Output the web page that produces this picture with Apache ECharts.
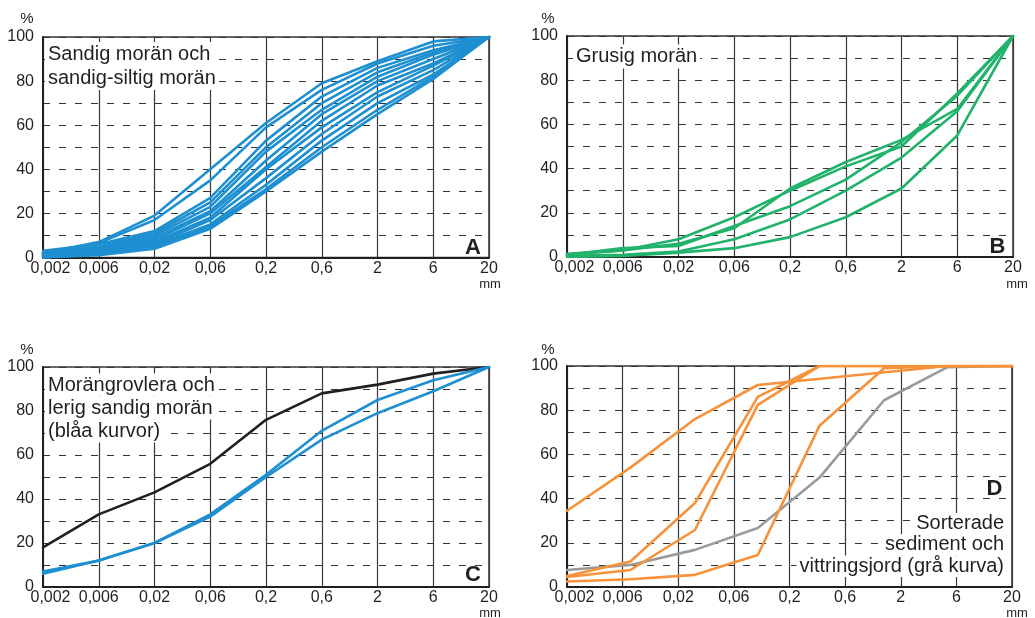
<!DOCTYPE html>
<html>
<head>
<meta charset="utf-8">
<script src="https://cdn.jsdelivr.net/npm/echarts@6/dist/echarts.min.js"></script>
<style>html,body{margin:0;padding:0;background:#fff}#c{width:1035px;height:618px}</style>
</head>
<body>
<div id="c"></div>
<script>
// ---- tick labels ----
const xTickLabels = ['0,002','0,006','0,02','0,06','0,2','0,6','2','6','20'];
const yTickLabels = [0, 20, 40, 60, 80, 100];

// ---- Panel A: sandig morän och sandig-siltig morän (values at each tick) ----
const sandigMoran = [
  [2, 7, 19, 40, 61, 79, 89, 98, 100],
  [2, 6.5, 17, 35, 59, 76, 88, 96, 100],
  [3, 6, 12, 27, 53, 73, 86, 94, 100],
  [2, 5, 11, 25, 50, 70, 84, 93, 100],
  [1.5, 4.5, 10, 23, 48, 67, 82, 92, 100],
  [1, 4, 9, 21, 44, 65, 80, 90, 100],
  [1, 3.5, 8, 20, 41, 62, 78, 88, 100],
  [0.5, 3, 7, 18, 40, 59, 75, 87, 100],
  [0.5, 2.5, 6, 17, 36, 56, 73, 85, 100],
  [0, 2, 5.5, 15, 33, 53, 70, 83, 100],
  [0, 1.5, 5, 14, 31, 50, 67, 82, 100],
  [0, 1, 4, 13, 30, 48, 65, 81, 100]
];

// ---- Panel B: grusig morän ----
const grusigMoran = [
  [1.5, 3, 8, 18, 30, 41, 50, 74, 100],
  [1, 3, 6, 13, 31, 43, 53, 67, 100],
  [1, 4, 5, 14, 23, 35, 52, 73, 100],
  [0.5, 1, 2.5, 8, 17, 30, 45, 66, 100],
  [0, 0.5, 2, 4, 9, 18, 31, 55, 100]
];

// ---- Panel C ----
const morangrovlera = [18, 33, 43, 56, 76, 88, 92, 97, 100];
const lerigSandigMoran = [
  [7, 12, 20, 33, 51, 71, 85, 94, 100],
  [6, 12, 20, 32, 50, 67, 79, 89, 100]
];

// ---- Panel D: [position on the size scale (tick index), percent] ----
const sorteradeSediment = [
  [[0, 34.5], [1.14, 54], [2.3, 76], [3.43, 91.4], [6.84, 100], [8, 100]],
  [[0, 5], [1.14, 11.5], [2.3, 38], [3.43, 86], [4.54, 100], [8, 100]],
  [[0, 4.5], [1.14, 7.7], [2.3, 25.8], [3.43, 82.4], [4.54, 100], [8, 100]],
  [[0, 2.5], [1.14, 3.5], [2.3, 5.5], [3.43, 14.5], [4.54, 73], [5.7, 99], [6.84, 100], [8, 100]]
];
const vittringsjord = [[0, 7.7], [1.14, 10], [2.3, 16.8], [3.43, 26.7], [4.54, 49.5], [5.7, 84.5], [6.84, 99.5], [8, 100]];

// ---- styling ----
const FONT = '"Liberation Sans", Arial, Helvetica, sans-serif';
const TXT = '#231f20';
const BLUE = '#1e8fd0', GREEN = '#21b26b', ORANGE = '#f7923a', GRAY = '#9a9a9a', BLACK = '#231f20';

const grids = [
  {left: 43, top: 37, width: 446, height: 220.5},
  {left: 567, top: 36, width: 446, height: 221},
  {left: 43, top: 367, width: 446, height: 220},
  {left: 567, top: 366, width: 445, height: 221}
];

function xAxisFor(i) {
  return {
    type: 'value', gridIndex: i, min: 0, max: 8, interval: 1,
    axisLine: {show: true, onZero: false, lineStyle: {color: TXT, width: 2}},
    axisTick: {show: false},
    splitLine: {show: true, lineStyle: {color: '#3a3a3a', width: 1.2}},
    axisLabel: {
      margin: 3, fontSize: 16, color: TXT, fontFamily: FONT,
      showMinLabel: true, showMaxLabel: true,
      formatter: v => {
        const s = xTickLabels[Math.round(v)] || '';
        return Math.round(v) === 0 ? '{f|' + s + '}' : s;
      },
      rich: {f: {fontSize: 16, color: TXT, fontFamily: FONT, padding: [0, 0, 0, 15]}}
    }
  };
}
function yAxisFor(i) {
  return {
    type: 'value', gridIndex: i, min: 0, max: 100, interval: 10,
    axisLine: {show: true, onZero: false, lineStyle: {color: TXT, width: 2}},
    axisTick: {show: false},
    splitLine: {show: true, lineStyle: {color: '#333', width: 1.1, type: [7, 9]}},
    axisLabel: {
      margin: 9, fontSize: 16, color: TXT, fontFamily: FONT,
      formatter: v => (yTickLabels.indexOf(v) >= 0 ? String(v) : '')
    }
  };
}

const series = [];
function addLine(gi, data, color, z) {
  series.push({
    type: 'line', xAxisIndex: gi, yAxisIndex: gi, data: data,
    showSymbol: false, symbol: 'none', smooth: false, silent: true, animation: false,
    z: z || 2,
    lineStyle: {color: color, width: 2.6, join: 'round', cap: 'round'}
  });
}
const idx = arr => arr.map((v, i) => [i, v]);
sandigMoran.forEach(a => addLine(0, idx(a), BLUE));
grusigMoran.forEach(a => addLine(1, idx(a), GREEN));
addLine(2, idx(morangrovlera), BLACK);
lerigSandigMoran.forEach(a => addLine(2, idx(a), BLUE));
addLine(3, vittringsjord, GRAY, 2);
sorteradeSediment.forEach(a => addLine(3, a, ORANGE, 3));

// ---- annotations ----
const graphic = [];
function textLines(lines, x, yTop, lh, align) {
  lines.forEach((t, i) => {
    graphic.push({
      type: 'text', x: x, y: yTop + i * lh, z: 100,
      style: {
        text: t, fill: TXT, fontSize: 20, fontFamily: FONT,
        align: align, verticalAlign: 'top', lineHeight: lh,
        backgroundColor: '#fff', padding: [0, 3, 0, 3]
      }
    });
  });
}
textLines(['Sandig morän och', 'sandig-siltig morän'], 45, 42, 24, 'left');
textLines(['Grusig morän'], 573, 44.5, 24, 'left');
textLines(['Morängrovlera och', 'lerig sandig morän', '(blåa kurvor)'], 45, 373.5, 23, 'left');
textLines(['Sorterade', 'sediment och', 'vittringsjord (grå kurva)'], 1007, 513, 21.3, 'right');

function letter(t, x, y) {
  graphic.push({type: 'text', x: x, y: y, z: 100,
    style: {text: t, fill: TXT, fontSize: 22, fontWeight: 'bold', fontFamily: FONT, align: 'right', verticalAlign: 'middle'}});
}
letter('A', 481, 247.5);
letter('B', 1005.5, 246.5);
letter('C', 481, 575);
letter('D', 1002.5, 488.5);

function small(t, x, y, fs) {
  graphic.push({type: 'text', x: x, y: y, z: 100,
    style: {text: t, fill: TXT, fontSize: fs, fontFamily: FONT, align: 'center', verticalAlign: 'middle'}});
}
small('%', 27, 19, 15);
small('%', 548, 19, 15);
small('%', 27, 350, 15);
small('%', 548, 350, 15);
small('mm', 490, 284, 13);
small('mm', 1017, 284, 13);
small('mm', 490, 613, 13);
small('mm', 1017, 613, 13);

const chart = echarts.init(document.getElementById('c'), null, {renderer: 'canvas'});
chart.setOption({
  animation: false,
  backgroundColor: '#fff',
  grid: grids.map(g => Object.assign({show: true, borderColor: '#333', borderWidth: 1.5, backgroundColor: 'transparent', containLabel: false}, g)),
  xAxis: [0, 1, 2, 3].map(xAxisFor),
  yAxis: [0, 1, 2, 3].map(yAxisFor),
  series: series,
  graphic: graphic
});
</script>
</body>
</html>
